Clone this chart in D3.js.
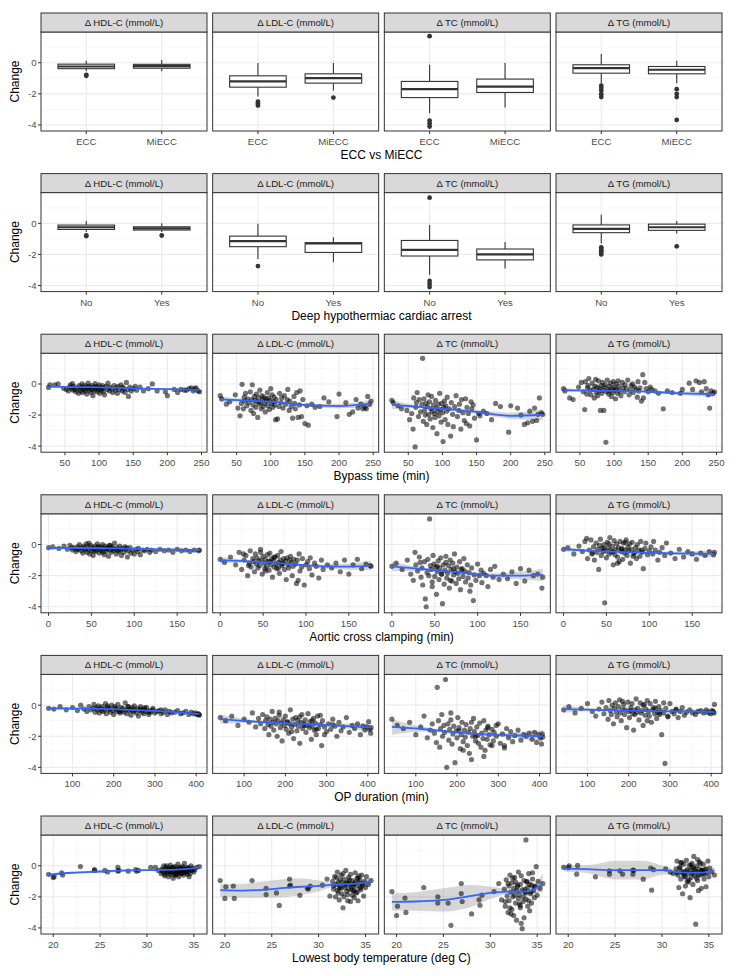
<!DOCTYPE html>
<html><head><meta charset="utf-8">
<script src="https://cdn.jsdelivr.net/npm/d3@7"></script>
<style>body{margin:0;background:#fff}</style>
</head><body><svg id="c" width="742" height="976"></svg>
<script>
// ---------------- DATA ----------------
const panelTitles = ["Δ HDL-C (mmol/L)", "Δ LDL-C (mmol/L)", "Δ TC (mmol/L)", "Δ TG (mmol/L)"];
const changeRange = [-4.1, 1.69];
const yTicks = [-4, -2, 0];
const yMinorTicks = [-3, -1, 1];

// Row 1: ECC vs MiECC  box stats [lowWhisker, q1, median, q3, highWhisker]
const eccCategories = ["ECC", "MiECC"];
const eccHDLBox = [[-0.55,-0.38,-0.24,-0.09,0.13],[-0.55,-0.35,-0.22,-0.1,0.18]];
const eccHDLOut = [[-0.78,-0.84],[]];
const eccLDLBox = [[-2.17,-1.57,-1.2,-0.84,-0.02],[-1.79,-1.31,-0.99,-0.71,-0.02]];
const eccLDLOut = [[-2.5,-2.62,-2.75],[-2.24]];
const eccTCBox = [[-3.25,-2.24,-1.7,-1.2,-0.13],[-2.88,-1.91,-1.53,-1.05,-0.02]];
const eccTCOut = [[1.71,-3.72,-3.9,-4.1],[]];
const eccTGBox = [[-1.31,-0.67,-0.34,-0.13,0.56],[-1.31,-0.71,-0.45,-0.24,0.13]];
const eccTGOut = [[-1.48,-1.63,-1.79,-2.02,-2.21],[-1.7,-2.0,-2.21,-3.68]];

// Row 2: Deep hypothermiac cardiac arrest
const dhcaCategories = ["No", "Yes"];
const dhcaHDLBox = [[-0.55,-0.39,-0.25,-0.11,0.17],[-0.55,-0.43,-0.32,-0.22,0.0]];
const dhcaHDLOut = [[-0.78,-0.82],[-0.78]];
const dhcaLDLBox = [[-2.3,-1.5,-1.14,-0.82,-0.02],[-2.5,-1.87,-1.29,-1.25,-0.9]];
const dhcaLDLOut = [[-2.75],[]];
const dhcaTCBox = [[-3.3,-2.1,-1.7,-1.1,-0.1],[-2.9,-2.35,-2.0,-1.65,-1.2]];
const dhcaTCOut = [[1.65,-3.7,-3.9,-4.1],[]];
const dhcaTGBox = [[-1.3,-0.6,-0.35,-0.1,0.55],[-0.65,-0.45,-0.25,-0.05,0.15]];
const dhcaTGOut = [[-1.55,-1.65,-1.75,-1.85,-2.0],[-1.48]];

// Row 3: Bypass time (min)
const bypassTicks = [50,100,150,200,250];
const bypassX = [
26,28,35,40,48,52,55,57,58,60,
61,62,63,65,66,68,70,71,72,73,
74,75,76,77,78,79,80,81,82,83,
84,85,86,87,88,89,90,91,92,93,
94,95,96,97,98,99,100,101,102,103,
104,105,106,107,108,110,112,113,115,116,
118,120,122,124,125,127,128,130,132,134,
135,136,138,140,142,143,145,147,150,153,
155,160,165,172,178,185,197,200,210,215,
220,225,228,232,235,238,240,242,245,247];
const bypassHDL = [
-0.22,-0.05,-0.05,0.0,-0.28,-0.35,-0.45,-0.2,-0.05,-0.3,
0.02,-0.4,-0.15,-0.35,-0.5,-0.25,-0.6,-0.1,-0.3,-0.45,
-0.2,0.0,-0.55,-0.25,-0.35,-0.1,-0.45,-0.2,-0.65,-0.3,
0.05,-0.15,-0.4,-0.25,-0.55,-0.1,-0.35,-0.75,-0.2,-0.45,
0.02,-0.3,-0.15,-0.5,-0.25,-0.35,-0.05,-0.6,-0.2,-0.4,
-0.3,-0.1,-0.5,-0.25,-0.7,-0.15,-0.35,0.05,-0.45,-0.2,
-0.3,-0.55,-0.1,-0.4,-0.25,-0.6,-0.15,-0.35,-0.05,-0.45,
-0.2,-0.3,-0.55,0.1,-0.35,-0.8,-0.2,-0.45,-0.3,-0.15,
-0.4,-0.2,-0.45,-0.3,0.0,-0.45,-0.5,-0.75,-0.35,-0.55,
-0.35,-0.4,-0.4,-0.3,-0.25,-0.45,-0.3,-0.25,-0.45,-0.5];
const bypassLDL = [
-0.75,-0.95,-1.3,-1.15,-0.7,-1.55,-2.05,-1.25,-0.02,-1.6,
-0.85,-1.1,-0.6,-1.4,-0.95,-1.2,-0.5,-1.7,-1.0,-0.05,
-1.35,-1.9,-0.8,-1.05,-1.5,-0.65,-1.15,-2.15,-0.9,-1.3,
-0.4,-1.2,-1.6,-0.75,-1.0,-1.45,-0.85,-1.25,-1.8,-0.95,
-1.1,-0.55,-1.4,-0.9,-1.65,-1.05,-0.3,-1.25,-0.7,-1.5,
-1.15,-0.85,-1.35,-2.3,-1.0,-2.25,-1.45,-0.6,-1.2,-0.9,
-1.55,-0.75,-1.3,-1.0,-0.35,-1.7,-1.1,-1.45,-2.2,-0.8,
-1.25,-1.6,-0.55,-2.15,-1.35,-0.45,-2.1,-1.0,-2.55,-1.4,
-2.65,-1.3,-1.5,-1.45,-0.9,-1.15,-2.1,-0.65,-1.2,-1.95,
-1.8,-1.0,-1.55,-1.3,-1.6,-1.5,-1.6,-0.8,-1.3,-1.1];
const bypassTC = [
-1.05,-1.2,-1.4,-1.6,-1.7,-2.3,-1.9,-2.9,-0.9,-4.05,
-1.5,-1.2,-0.55,-2.1,-1.0,-1.8,-1.3,1.65,-2.4,-0.95,
-1.7,-2.0,-1.25,-2.6,-1.45,-0.7,-1.95,-1.15,-2.25,-1.6,
-0.8,-1.75,-2.8,-1.35,-1.9,-2.15,-1.05,-1.55,-3.2,-1.8,
-1.3,-2.05,-0.6,-1.65,-2.45,-1.25,-1.85,-3.7,-1.5,-1.1,
-2.3,-1.4,-1.75,-0.85,-2.6,-1.6,-3.35,-1.2,-1.95,-2.75,
-1.45,-0.75,-2.1,-1.7,-1.3,-2.9,-1.0,-1.85,-2.35,-0.95,
-2.55,-1.5,-1.9,-2.7,-1.15,-1.6,-1.35,-2.2,-3.6,-1.9,
-2.05,-1.75,-1.9,-2.3,-1.25,-1.45,-3.1,-1.4,-1.55,-2.0,
-2.6,-2.5,-1.75,-2.4,-1.55,-2.35,-1.95,-0.9,-1.85,-1.95];
const bypassTG = [
-0.3,-0.45,-0.9,-1.0,-0.2,0.1,-0.5,-1.65,0.15,-0.65,
-0.25,-0.1,0.35,-0.4,-0.7,0.05,-0.35,-0.9,-0.15,0.3,
-0.55,-0.2,-0.75,0.2,-0.45,-0.3,-1.7,-0.1,-0.6,0.1,
-0.4,-1.7,-0.2,-0.05,-3.75,-0.5,0.25,-0.35,-0.65,-0.15,
-0.45,0.05,-0.8,-0.3,-0.55,0.15,-0.2,-0.4,-0.95,0.0,
-0.35,-0.6,0.2,-0.15,-0.45,-0.75,0.1,-0.25,-0.5,-0.05,
-0.3,0.25,-0.7,-0.4,-0.1,0.0,-0.55,-0.2,-0.35,-0.85,
0.15,-0.45,-0.25,-1.1,0.6,-0.9,0.1,-0.3,-0.5,-0.2,
-0.35,-0.45,-0.6,-1.6,-0.45,-0.55,-0.6,-0.35,0.05,-0.35,
0.2,0.1,-0.5,0.15,-0.3,-0.7,-1.55,-0.45,-0.6,-0.5];
const bypassSmoothX = [26,60,100,150,200,247];
const bypassFitHDL = [-0.17,-0.2,-0.22,-0.28,-0.33,-0.38];
const bypassSeHDL  = [0.06,0.03,0.02,0.03,0.06,0.1];
const bypassFitLDL = [-0.99,-1.05,-1.15,-1.35,-1.42,-1.25];
const bypassSeLDL  = [0.2,0.08,0.06,0.1,0.15,0.25];
const bypassFitTC  = [-1.35,-1.45,-1.6,-1.8,-2.05,-1.98];
const bypassSeTC   = [0.3,0.1,0.08,0.12,0.2,0.35];
const bypassFitTG  = [-0.39,-0.43,-0.45,-0.5,-0.6,-0.66];
const bypassSeTG   = [0.15,0.06,0.05,0.06,0.12,0.2];

// Row 4: Aortic cross clamping (min)
const clampTicks = [0,50,100,150];
const clampX = [
0,5,12,18,22,25,28,30,32,34,
35,36,38,39,40,41,42,43,44,45,
46,47,48,49,50,51,52,53,54,55,
56,57,58,59,60,61,62,63,64,65,
66,67,68,69,70,71,72,73,74,75,
76,77,78,79,80,82,83,84,85,86,
88,89,90,92,93,95,96,98,100,102,
104,105,107,110,112,115,118,120,125,130,
135,140,145,150,155,160,165,170,175,176,
27,33,47,53,58,63,68,72,81,91];
const clampHDL = [
-0.2,-0.15,-0.25,-0.1,-0.3,-0.05,-0.35,-0.2,-0.45,-0.15,
-0.3,0.0,-0.4,-0.2,-0.55,-0.1,-0.25,-0.35,0.05,-0.5,
-0.15,-0.3,-0.6,-0.05,-0.4,-0.2,-0.7,-0.25,-0.1,-0.45,
-0.35,0.05,-0.2,-0.55,-0.3,-0.15,-0.4,0.0,-0.25,-0.65,
-0.1,-0.45,-0.3,-0.2,-0.75,-0.05,-0.35,-0.5,-0.15,-0.25,
-0.4,0.1,-0.3,-0.6,-0.2,-0.45,-0.1,-0.35,-0.7,-0.25,
-0.5,-0.15,-0.3,-0.8,-0.4,-0.2,-0.55,-0.35,-0.6,-0.3,
-0.45,-0.25,-0.65,-0.35,-0.4,-0.3,-0.5,-0.35,-0.45,-0.3,
-0.4,-0.35,-0.5,-0.3,-0.4,-0.35,-0.45,-0.35,-0.4,-0.35,
-0.2,-0.3,0.1,-0.4,-0.15,-0.5,-0.25,-0.05,-0.35,-0.2];
const clampLDL = [
-0.95,-1.15,-0.8,-1.3,-0.5,-1.6,-1.0,-0.7,-2.0,-1.2,
-0.4,-1.45,-0.9,-1.1,-1.75,-0.6,-1.25,-0.85,-1.5,-1.05,
-1.35,-0.3,-1.0,-1.9,-0.75,-1.2,-1.55,-0.95,-1.4,-0.65,
-1.1,-1.65,-0.55,-1.3,-0.9,-2.1,-1.0,-1.45,-0.8,-1.25,
-1.55,-0.7,-1.15,-1.85,-1.0,-0.45,-1.35,-1.2,-0.9,-1.6,
-1.05,-2.25,-0.85,-1.3,-1.5,-0.75,-1.15,-2.0,-1.4,-0.95,
-1.25,-2.5,-1.0,-0.6,-1.7,-1.45,-0.9,-2.6,-1.3,-1.1,
-1.55,-0.85,-1.95,-1.2,-1.4,-2.15,-1.0,-1.6,-1.3,-1.5,
-1.2,-1.75,-1.0,-1.9,-1.3,-0.95,-1.55,-1.25,-1.35,-1.4,
-0.6,-1.35,-0.5,-1.7,-1.1,-0.8,-1.5,-1.25,-1.0,-2.3];
const clampTC = [
-1.4,-1.2,-1.6,-1.0,-1.9,-2.3,-1.3,-1.7,-0.8,-2.1,
-1.5,-2.6,-1.1,-3.5,-4.0,-1.8,-0.95,-2.0,1.65,-1.35,
-1.6,-2.4,-0.7,-1.25,-2.05,-1.45,-3.2,-1.75,-1.05,-2.25,
-1.5,-0.85,-1.9,-3.8,-1.3,-2.55,-1.65,-1.15,-2.15,-1.85,
-1.35,-2.8,-1.0,-1.6,-2.35,-1.2,-1.95,-0.6,-1.75,-2.5,
-1.45,-1.85,-2.2,-1.1,-2.9,-1.55,-2.05,-0.9,-1.7,-2.4,
-1.3,-2.15,-1.8,-2.6,-1.5,-3.6,-1.95,-2.3,-1.25,-2.0,
-1.65,-2.45,-1.85,-2.0,-2.7,-1.6,-2.1,-1.4,-2.25,-1.9,
-2.2,-1.75,-2.5,-1.55,-2.35,-1.65,-2.0,-1.9,-2.8,-2.1,
-0.5,-1.15,-2.7,-1.4,-1.9,-0.75,-2.3,-1.55,-1.6,-3.0];
const clampTG = [
-0.3,-0.2,-0.6,-0.1,-0.45,0.2,-0.9,-0.35,0.3,-0.55,
-0.15,-1.0,0.1,-0.5,-0.3,-1.6,-0.05,0.35,-0.7,-0.25,
-0.45,0.0,-3.75,-0.4,-0.85,0.15,-0.2,-0.6,0.45,-0.35,
-0.5,-0.1,-1.3,0.25,-0.65,-0.3,0.05,-0.8,-0.2,-1.1,
0.2,-0.45,-0.25,-0.95,0.1,-0.55,-0.35,0.3,-0.7,-0.15,
-0.4,0.05,-1.2,-0.3,0.15,-0.6,-0.5,-0.2,-0.9,0.0,
-0.35,-0.75,0.2,-0.5,-1.55,-0.25,0.1,-0.65,-0.4,-0.15,
-0.6,0.2,-0.35,-1.0,-0.5,-0.2,-0.7,0.1,-0.55,-0.9,
-0.3,-0.8,-0.45,-0.6,-0.95,-0.55,-0.7,-0.45,-0.65,-0.5,
0.4,-0.6,-0.25,0.05,-0.45,-1.2,-0.3,0.15,-0.75,-0.35];
const clampSmoothX = [0,40,80,120,150,176];
const clampFitHDL = [-0.22,-0.22,-0.25,-0.3,-0.33,-0.35];
const clampSeHDL  = [0.07,0.02,0.02,0.04,0.07,0.1];
const clampFitLDL = [-1.0,-1.1,-1.25,-1.4,-1.42,-1.35];
const clampSeLDL  = [0.2,0.06,0.07,0.12,0.2,0.3];
const clampFitTC  = [-1.4,-1.6,-1.8,-2.0,-2.0,-1.95];
const clampSeTC   = [0.3,0.1,0.1,0.15,0.25,0.4];
const clampFitTG  = [-0.3,-0.42,-0.5,-0.55,-0.58,-0.6];
const clampSeTG   = [0.15,0.05,0.06,0.1,0.15,0.25];

// Row 5: OP duration (min)
const opTicks = [100,200,300,400];
const opX = [
42,55,70,85,100,112,120,128,135,140,
145,150,152,155,158,160,163,165,168,170,
172,175,178,180,182,185,188,190,192,195,
198,200,202,205,208,210,212,215,218,220,
222,225,228,230,232,235,238,240,242,245,
248,250,252,255,258,260,263,265,268,270,
273,275,278,280,285,288,290,295,300,305,
310,315,320,325,330,335,340,348,355,362,
368,375,382,388,393,398,402,405,407,408,
185,205,215,235,245,265,275,285,295,315];
const opHDL = [
-0.2,-0.25,-0.1,-0.3,-0.15,-0.35,0.0,-0.25,-0.4,-0.1,
-0.3,-0.2,0.05,-0.45,-0.15,-0.3,-0.05,-0.5,-0.2,-0.35,
-0.1,-0.4,-0.25,0.1,-0.55,-0.15,-0.3,-0.2,-0.45,0.0,
-0.35,-0.6,-0.1,-0.25,-0.4,0.05,-0.3,-0.5,-0.15,-0.35,
-0.2,-0.45,0.15,-0.3,-0.55,-0.1,-0.35,-0.25,-0.65,-0.15,
-0.4,-0.05,-0.3,-0.5,-0.2,-0.7,-0.35,-0.1,-0.45,-0.3,
-0.55,-0.25,-0.4,-0.15,-0.6,-0.35,-0.45,-0.3,-0.5,-0.4,
-0.35,-0.55,-0.45,-0.3,-0.6,-0.4,-0.5,-0.45,-0.35,-0.55,
-0.5,-0.4,-0.6,-0.45,-0.55,-0.5,-0.6,-0.55,-0.65,-0.6,
-0.05,-0.2,-0.4,-0.1,-0.35,-0.25,-0.15,-0.45,-0.2,-0.3];
const opLDL = [
-0.8,-1.0,-0.7,-1.3,-0.9,-1.1,-0.5,-1.4,-0.85,-1.2,
-0.6,-1.5,-1.0,-0.75,-1.25,-1.9,-0.9,-1.35,-0.4,-1.1,
-1.6,-0.85,-1.2,-2.0,-1.0,-0.65,-1.45,-1.15,-2.3,-0.95,
-1.3,-0.7,-1.55,-1.05,-1.8,-1.2,-0.3,-1.4,-0.9,-2.15,
-1.25,-0.8,-1.65,-1.0,-1.35,-2.45,-1.1,-0.6,-1.5,-1.2,
-0.95,-1.75,-1.3,-0.55,-1.45,-1.05,-2.2,-1.35,-0.85,-1.6,
-1.15,-1.9,-0.7,-1.5,-1.25,-2.6,-1.0,-1.4,-1.7,-1.2,
-1.55,-0.9,-1.35,-2.0,-1.1,-1.65,-1.4,-0.8,-1.75,-1.3,
-1.5,-1.2,-1.9,-1.35,-1.6,-1.4,-1.05,-1.55,-1.8,-1.45,
-0.45,-1.1,-1.7,-0.75,-1.3,-1.0,-1.55,-0.65,-1.9,-1.25];
const opTC = [
-0.9,-1.3,-1.5,-1.1,-1.9,-1.4,-0.7,-2.1,-1.6,-1.2,
-1.8,-2.4,1.15,-1.0,-2.7,-1.5,-0.6,-2.0,-1.3,-1.75,
1.65,-4.0,-1.2,-2.25,-1.55,-0.95,-2.5,-1.85,-1.35,-3.7,
-1.65,-2.1,-0.8,-1.45,-2.8,-1.9,-1.1,-2.35,-1.6,-2.05,
-1.25,-2.6,-1.75,-3.1,-1.5,-3.5,-2.0,-0.85,-1.7,-2.3,
-1.4,-1.95,-2.45,-1.15,-2.7,-1.8,-2.15,-1.0,-2.9,-1.6,
-2.2,-1.35,-1.9,-2.55,-1.55,-2.3,-1.75,-2.0,-1.2,-2.45,
-1.85,-2.6,-1.5,-2.1,-1.7,-2.35,-1.95,-1.6,-2.25,-1.9,
-2.0,-1.8,-2.2,-1.75,-2.4,-1.9,-2.1,-2.5,-1.85,-2.05,
-0.5,-1.65,-2.9,-1.1,-2.0,-3.3,-1.45,-2.6,-1.3,-2.75];
const opTG = [
-0.3,-0.1,-0.5,-0.2,0.1,-0.4,-0.7,-0.25,0.2,-0.55,
-0.15,-0.9,0.3,-0.35,-0.6,0.0,-1.2,-0.2,0.15,-0.45,
-0.75,-0.1,0.35,-0.5,-1.0,-0.25,0.05,-0.6,-0.3,-1.45,
0.2,-0.4,-0.8,-0.15,0.1,-0.55,-1.6,-0.3,0.4,-0.45,
-0.2,-0.95,0.15,-0.5,-0.35,-1.3,0.05,-0.65,-0.25,0.3,
-0.4,-0.7,0.1,-1.1,-0.3,-0.15,-0.55,0.25,-0.85,-0.45,
-0.1,-0.6,-0.35,-1.9,-0.5,-3.75,-0.2,-0.75,0.1,-0.4,
-0.55,-0.25,-0.8,-0.4,-0.15,-0.65,-0.45,-0.3,-0.5,-0.6,
-0.4,-0.35,-0.5,-0.3,-0.45,-0.55,-0.35,-0.4,-0.5,0.05,
0.25,-0.35,-0.6,0.0,-1.0,-0.2,-0.5,0.15,-0.7,-0.3];
const opSmoothX = [42,120,200,280,350,408];
const opFitHDL = [-0.2,-0.22,-0.25,-0.35,-0.45,-0.58];
const opSeHDL  = [0.08,0.03,0.02,0.03,0.06,0.1];
const opFitLDL = [-0.9,-1.05,-1.15,-1.25,-1.35,-1.45];
const opSeLDL  = [0.3,0.1,0.06,0.08,0.15,0.3];
const opFitTC  = [-1.4,-1.55,-1.75,-1.9,-1.95,-2.0];
const opSeTC   = [0.5,0.15,0.08,0.1,0.2,0.4];
const opFitTG  = [-0.25,-0.3,-0.35,-0.4,-0.4,-0.45];
const opSeTG   = [0.25,0.08,0.05,0.06,0.12,0.25];

// Row 6: Lowest body temperature (deg C)
const tempTicks = [20,25,30,35];
const tempX = [
19.5,20,20.1,20.9,21,22.9,24.4,24.4,25.5,25.8,
26.9,26.9,27,28,28.8,28.9,29.1,30.4,30.9,31.2,
31.5,31.6,31.7,31.8,31.9,32.0,32.0,32.1,32.2,32.3,
32.3,32.4,32.5,32.5,32.6,32.7,32.8,32.8,32.9,33.0,
33.0,33.1,33.2,33.2,33.3,33.4,33.4,33.5,33.6,33.6,
33.7,33.8,33.8,33.9,34.0,34.0,34.1,34.2,34.3,34.4,
34.4,34.5,34.6,34.7,34.8,34.9,35.0,35.1,35.3,35.6,
31.6,31.9,32.1,32.4,32.6,32.9,33.1,33.3,33.5,33.7,
33.9,34.1,34.3,34.5,34.7,32.2,32.7,33.2,33.8,34.2];
const tempHDL = [
-0.55,-0.75,-0.7,-0.45,-0.6,-0.05,-0.25,-0.3,-0.3,-0.4,
-0.1,-0.35,-0.3,-0.35,-0.25,-0.35,-0.3,-0.1,-0.1,-0.3,
-0.5,-0.2,-0.4,0.0,-0.65,-0.25,-0.1,-0.45,-0.3,-0.7,
-0.15,-0.35,0.05,-0.55,-0.2,-0.4,-0.8,-0.1,-0.3,-0.5,
-0.05,-0.6,-0.25,-0.4,0.1,-0.35,-0.7,-0.15,-0.5,-0.2,
-0.45,-0.05,-0.3,-0.6,-0.15,0.15,-0.4,-0.25,-0.55,-0.1,
-0.35,-0.2,-0.5,0.0,-0.3,-0.15,-0.4,-0.25,-0.1,-0.05,
-0.3,-0.55,0.0,-0.25,-0.45,-0.6,-0.2,-0.35,-0.1,-0.5,
-0.3,-0.45,-0.15,-0.7,-0.25,-0.4,-0.1,-0.55,-0.2,-0.35];
const tempLDL = [
-0.95,-2.1,-1.35,-1.3,-2.1,-0.95,-1.45,-1.85,-1.75,-2.55,
-0.85,-1.3,-1.25,-1.9,-1.45,-1.5,-1.3,-1.25,-0.85,-1.95,
-1.0,-1.5,-0.7,-2.0,-1.2,-0.4,-1.6,-1.05,-2.2,-0.9,
-1.35,-0.6,-1.8,-1.1,-2.7,-0.85,-1.4,-1.25,-0.3,-1.65,
-1.05,-2.25,-0.75,-1.5,-1.2,-2.3,-0.55,-1.35,-1.9,-0.95,
-1.6,-1.15,-2.05,-0.45,-1.3,-1.75,-0.8,-2.25,-1.1,-1.45,
-0.9,-1.55,-0.6,-1.25,-1.95,-1.0,-1.4,-0.7,-1.2,-0.95,
-1.3,-0.75,-1.75,-1.45,-0.5,-1.15,-1.85,-0.9,-1.55,-1.25,
-1.05,-1.7,-0.65,-1.35,-1.15,-1.45,-2.0,-1.1,-1.6,-0.8];
const tempTC = [
-1.66,-3.2,-2.6,-2.08,-3.0,-1.4,-2.0,-2.4,-2.4,-3.83,
-1.14,-1.79,-2.3,-3.1,-2.19,-2.54,-1.89,-1.66,-1.14,-2.2,
-1.5,-2.6,-0.9,-1.95,-3.0,-1.3,-2.25,-0.6,-1.7,-2.8,
-1.1,-2.0,-3.2,-1.45,-0.75,-2.4,-1.6,-3.5,-1.25,-2.1,
-0.4,-1.85,-2.7,-1.2,-3.7,-4.05,-1.55,-2.3,-3.35,-0.95,
-1.7,1.66,-2.15,-1.05,-2.6,-1.4,-0.5,-2.9,-1.8,-1.25,
-2.4,-0.85,-1.6,-2.05,-1.3,-0.06,-1.9,-1.0,-1.45,-1.15,
-2.3,-1.15,-2.7,-0.8,-1.9,-1.35,-2.45,-0.65,-2.0,-1.5,
-1.0,-2.25,-1.7,-0.45,-1.35,-3.1,-1.05,-2.55,-1.75,-1.2];
const tempTG = [
-0.1,-0.12,0.0,-0.54,0.02,-0.71,-0.32,-0.54,-0.32,-0.54,
-0.28,-0.54,-0.3,-0.86,-0.15,-1.57,-0.25,-0.2,-0.41,-0.5,
-0.2,0.3,-0.6,-1.4,-0.1,-0.85,0.2,-0.35,-1.8,-0.55,
0.1,-0.4,-0.7,-1.3,0.35,-0.25,-1.05,-0.5,0.05,-2.05,
-0.3,-0.75,0.15,-0.45,-1.2,0.6,-0.15,-0.65,-3.76,-0.35,
0.0,-0.95,-0.4,-1.6,0.25,-0.2,-0.6,-1.45,-0.3,0.1,
-0.5,-0.85,-0.25,-1.35,-0.45,0.3,-0.7,-0.15,-0.4,-0.6,
-0.45,-0.15,0.2,-0.7,-0.35,-0.9,0.05,-0.5,-0.25,-0.8,
-0.6,0.15,-0.3,-0.55,-0.2,-0.45,-1.0,-0.1,0.4,-0.35];
const tempSmoothX = [19.5,22,25,28,30,32,34,35.6];
const tempFitHDL = [-0.58,-0.45,-0.37,-0.3,-0.28,-0.27,-0.22,-0.1];
const tempSeHDL  = [0.1,0.07,0.08,0.08,0.06,0.04,0.04,0.1];
const tempFitLDL = [-1.57,-1.6,-1.5,-1.35,-1.29,-1.2,-1.15,-1.0];
const tempSeLDL  = [0.4,0.45,0.55,0.55,0.35,0.1,0.1,0.25];
const tempFitTC  = [-2.32,-2.3,-2.2,-1.94,-1.74,-1.66,-1.65,-1.1];
const tempSeTC   = [0.55,0.6,0.75,0.7,0.4,0.15,0.15,0.6];
const tempFitTG  = [-0.17,-0.22,-0.28,-0.28,-0.28,-0.43,-0.45,-0.3];
const tempSeTG   = [0.2,0.25,0.6,0.6,0.3,0.1,0.1,0.2];

// ---------------- LAYOUT / STYLE ----------------
const FONT = "'Liberation Sans', Arial, Helvetica, sans-serif";
const plotLeft = 41, plotRight = 722, panelW = 166;
const panelGap = (plotRight - plotLeft - 4 * panelW) / 3;
const rowTop0 = 13, rowStep = 160.6, stripH = 19, panelH = 99;

const rows = [
  {type: "box", title: "ECC vs MiECC", cats: eccCategories,
   boxes: [eccHDLBox, eccLDLBox, eccTCBox, eccTGBox], outs: [eccHDLOut, eccLDLOut, eccTCOut, eccTGOut]},
  {type: "box", title: "Deep hypothermiac cardiac arrest", cats: dhcaCategories,
   boxes: [dhcaHDLBox, dhcaLDLBox, dhcaTCBox, dhcaTGBox], outs: [dhcaHDLOut, dhcaLDLOut, dhcaTCOut, dhcaTGOut]},
  {type: "scatter", title: "Bypass time (min)", ticks: bypassTicks, x: bypassX,
   ys: [bypassHDL, bypassLDL, bypassTC, bypassTG], sx: bypassSmoothX,
   fits: [bypassFitHDL, bypassFitLDL, bypassFitTC, bypassFitTG], ses: [bypassSeHDL, bypassSeLDL, bypassSeTC, bypassSeTG]},
  {type: "scatter", title: "Aortic cross clamping (min)", ticks: clampTicks, x: clampX,
   ys: [clampHDL, clampLDL, clampTC, clampTG], sx: clampSmoothX,
   fits: [clampFitHDL, clampFitLDL, clampFitTC, clampFitTG], ses: [clampSeHDL, clampSeLDL, clampSeTC, clampSeTG]},
  {type: "scatter", title: "OP duration (min)", ticks: opTicks, x: opX,
   ys: [opHDL, opLDL, opTC, opTG], sx: opSmoothX,
   fits: [opFitHDL, opFitLDL, opFitTC, opFitTG], ses: [opSeHDL, opSeLDL, opSeTC, opSeTG]},
  {type: "scatter", title: "Lowest body temperature (deg C)", ticks: tempTicks, x: tempX,
   ys: [tempHDL, tempLDL, tempTC, tempTG], sx: tempSmoothX,
   fits: [tempFitHDL, tempFitLDL, tempFitTC, tempFitTG], ses: [tempSeHDL, tempSeLDL, tempSeTC, tempSeTG]}
];

const svg = d3.select("#c");
svg.append("rect").attr("width", 742).attr("height", 976).attr("fill", "#fff");
const defs = svg.append("defs");

function expand(ext, m) { const r = ext[1] - ext[0]; return [ext[0] - r * m, ext[1] + r * m]; }
const yDomain = expand(changeRange, 0.05);

rows.forEach((row, ri) => {
  const stripTop = rowTop0 + ri * rowStep;
  const pTop = stripTop + stripH;
  const pBot = pTop + panelH;
  const y = d3.scaleLinear().domain(yDomain).range([pBot, pTop]);

  let x, majorX, minorX, labelX;
  if (row.type === "box") {
    x = d3.scaleLinear().domain([0.4, row.cats.length + 0.6]);
    majorX = row.cats.map((c, i) => i + 1);
    minorX = [];
    labelX = row.cats;
  } else {
    const dom = expand(d3.extent(row.x), 0.05);
    x = d3.scaleLinear().domain(dom);
    majorX = row.ticks;
    const step = row.ticks[1] - row.ticks[0];
    minorX = [];
    for (let v = row.ticks[0] - step / 2; v <= dom[1]; v += step) if (v >= dom[0]) minorX.push(v);
    labelX = row.ticks.map(String);
  }

  for (let pi = 0; pi < 4; pi++) {
    const pLeft = plotLeft + pi * (panelW + panelGap);
    x.range([pLeft, pLeft + panelW]);
    const g = svg.append("g");
    g.append("rect").attr("x", pLeft).attr("y", pTop).attr("width", panelW).attr("height", panelH).attr("fill", "#fff");
    // grid
    g.selectAll(null).data(yMinorTicks).enter().append("line")
      .attr("x1", pLeft).attr("x2", pLeft + panelW).attr("y1", d => y(d)).attr("y2", d => y(d))
      .attr("stroke", "#f2f2f2").attr("stroke-width", 0.6);
    g.selectAll(null).data(minorX).enter().append("line")
      .attr("y1", pTop).attr("y2", pBot).attr("x1", d => x(d)).attr("x2", d => x(d))
      .attr("stroke", "#f2f2f2").attr("stroke-width", 0.6);
    g.selectAll(null).data(yTicks).enter().append("line")
      .attr("x1", pLeft).attr("x2", pLeft + panelW).attr("y1", d => y(d)).attr("y2", d => y(d))
      .attr("stroke", "#ebebeb").attr("stroke-width", 1.1);
    g.selectAll(null).data(majorX).enter().append("line")
      .attr("y1", pTop).attr("y2", pBot).attr("x1", d => x(d)).attr("x2", d => x(d))
      .attr("stroke", "#ebebeb").attr("stroke-width", 1.1);

    const cid = `clip-${ri}-${pi}`;
    defs.append("clipPath").attr("id", cid).append("rect")
      .attr("x", pLeft).attr("y", pTop).attr("width", panelW).attr("height", panelH);
    const content = g.append("g").attr("clip-path", `url(#${cid})`);

    if (row.type === "box") {
      const bw = 0.75 * (x(2) - x(1));
      row.boxes[pi].forEach((b, ci) => {
        const cx = x(ci + 1);
        const [wlo, q1, med, q3, whi] = b;
        content.append("line").attr("x1", cx).attr("x2", cx).attr("y1", y(whi)).attr("y2", y(q3))
          .attr("stroke", "#333").attr("stroke-width", 1.1);
        content.append("line").attr("x1", cx).attr("x2", cx).attr("y1", y(q1)).attr("y2", y(wlo))
          .attr("stroke", "#333").attr("stroke-width", 1.1);
        content.append("rect").attr("x", cx - bw / 2).attr("y", y(q3)).attr("width", bw)
          .attr("height", y(q1) - y(q3)).attr("fill", "#fff").attr("stroke", "#333").attr("stroke-width", 1.1);
        content.append("line").attr("x1", cx - bw / 2).attr("x2", cx + bw / 2).attr("y1", y(med)).attr("y2", y(med))
          .attr("stroke", "#333").attr("stroke-width", 2.2);
        content.selectAll(null).data(row.outs[pi][ci]).enter().append("circle")
          .attr("cx", cx).attr("cy", d => y(d)).attr("r", 2.4).attr("fill", "#333");
      });
    } else {
      const sx = row.sx, fit = row.fits[pi], se = row.ses[pi];
      const band = sx.map((v, i) => ({x: v, lo: fit[i] - se[i], hi: fit[i] + se[i], f: fit[i]}));
      content.append("path").datum(band)
        .attr("d", d3.area().x(d => x(d.x)).y0(d => y(d.lo)).y1(d => y(d.hi)).curve(d3.curveMonotoneX))
        .attr("fill", "#999999").attr("fill-opacity", 0.4);
      const pts = row.x.map((v, i) => [v, row.ys[pi][i]]);
      content.selectAll(null).data(pts).enter().append("circle")
        .attr("cx", d => x(d[0])).attr("cy", d => y(d[1])).attr("r", 2.6)
        .attr("fill", "#000").attr("fill-opacity", 0.55);
      content.append("path").datum(band)
        .attr("d", d3.line().x(d => x(d.x)).y(d => y(d.f)).curve(d3.curveMonotoneX))
        .attr("fill", "none").attr("stroke", "#3366FF").attr("stroke-width", 1.8);
    }

    g.append("rect").attr("x", pLeft).attr("y", pTop).attr("width", panelW).attr("height", panelH)
      .attr("fill", "none").attr("stroke", "#333").attr("stroke-width", 1);

    // strip
    g.append("rect").attr("x", pLeft).attr("y", stripTop).attr("width", panelW).attr("height", stripH)
      .attr("fill", "#d9d9d9").attr("stroke", "#333").attr("stroke-width", 1);
    g.append("text").attr("x", pLeft + panelW / 2).attr("y", stripTop + stripH / 2 + 3.4)
      .attr("text-anchor", "middle").attr("font-family", FONT).attr("font-size", 9.6)
      .attr("fill", "#1a1a1a").text(panelTitles[pi]);

    // x axis
    g.selectAll(null).data(majorX).enter().append("line")
      .attr("x1", d => x(d)).attr("x2", d => x(d)).attr("y1", pBot).attr("y2", pBot + 3)
      .attr("stroke", "#333").attr("stroke-width", 1);
    g.selectAll(null).data(majorX).enter().append("text")
      .attr("x", d => x(d)).attr("y", pBot + 14).attr("text-anchor", "middle")
      .attr("font-family", FONT).attr("font-size", 9.6).attr("fill", "#4d4d4d")
      .text((d, i) => labelX[i]);

    if (pi === 0) {
      g.selectAll(null).data(yTicks).enter().append("line")
        .attr("x1", pLeft - 3).attr("x2", pLeft).attr("y1", d => y(d)).attr("y2", d => y(d))
        .attr("stroke", "#333").attr("stroke-width", 1);
      g.selectAll(null).data(yTicks).enter().append("text")
        .attr("x", pLeft - 4.5).attr("y", d => y(d) + 3.4).attr("text-anchor", "end")
        .attr("font-family", FONT).attr("font-size", 9.6).attr("fill", "#4d4d4d").text(d => d);
    }
  }

  // axis titles
  svg.append("text").attr("x", (plotLeft + plotRight) / 2).attr("y", pBot + 28)
    .attr("text-anchor", "middle").attr("font-family", FONT).attr("font-size", 12)
    .attr("fill", "#000").text(row.title);
  svg.append("text").attr("transform", `translate(${19},${(pTop + pBot) / 2}) rotate(-90)`)
    .attr("text-anchor", "middle").attr("font-family", FONT).attr("font-size", 12)
    .attr("fill", "#000").text("Change");
});
</script>
</body></html>
